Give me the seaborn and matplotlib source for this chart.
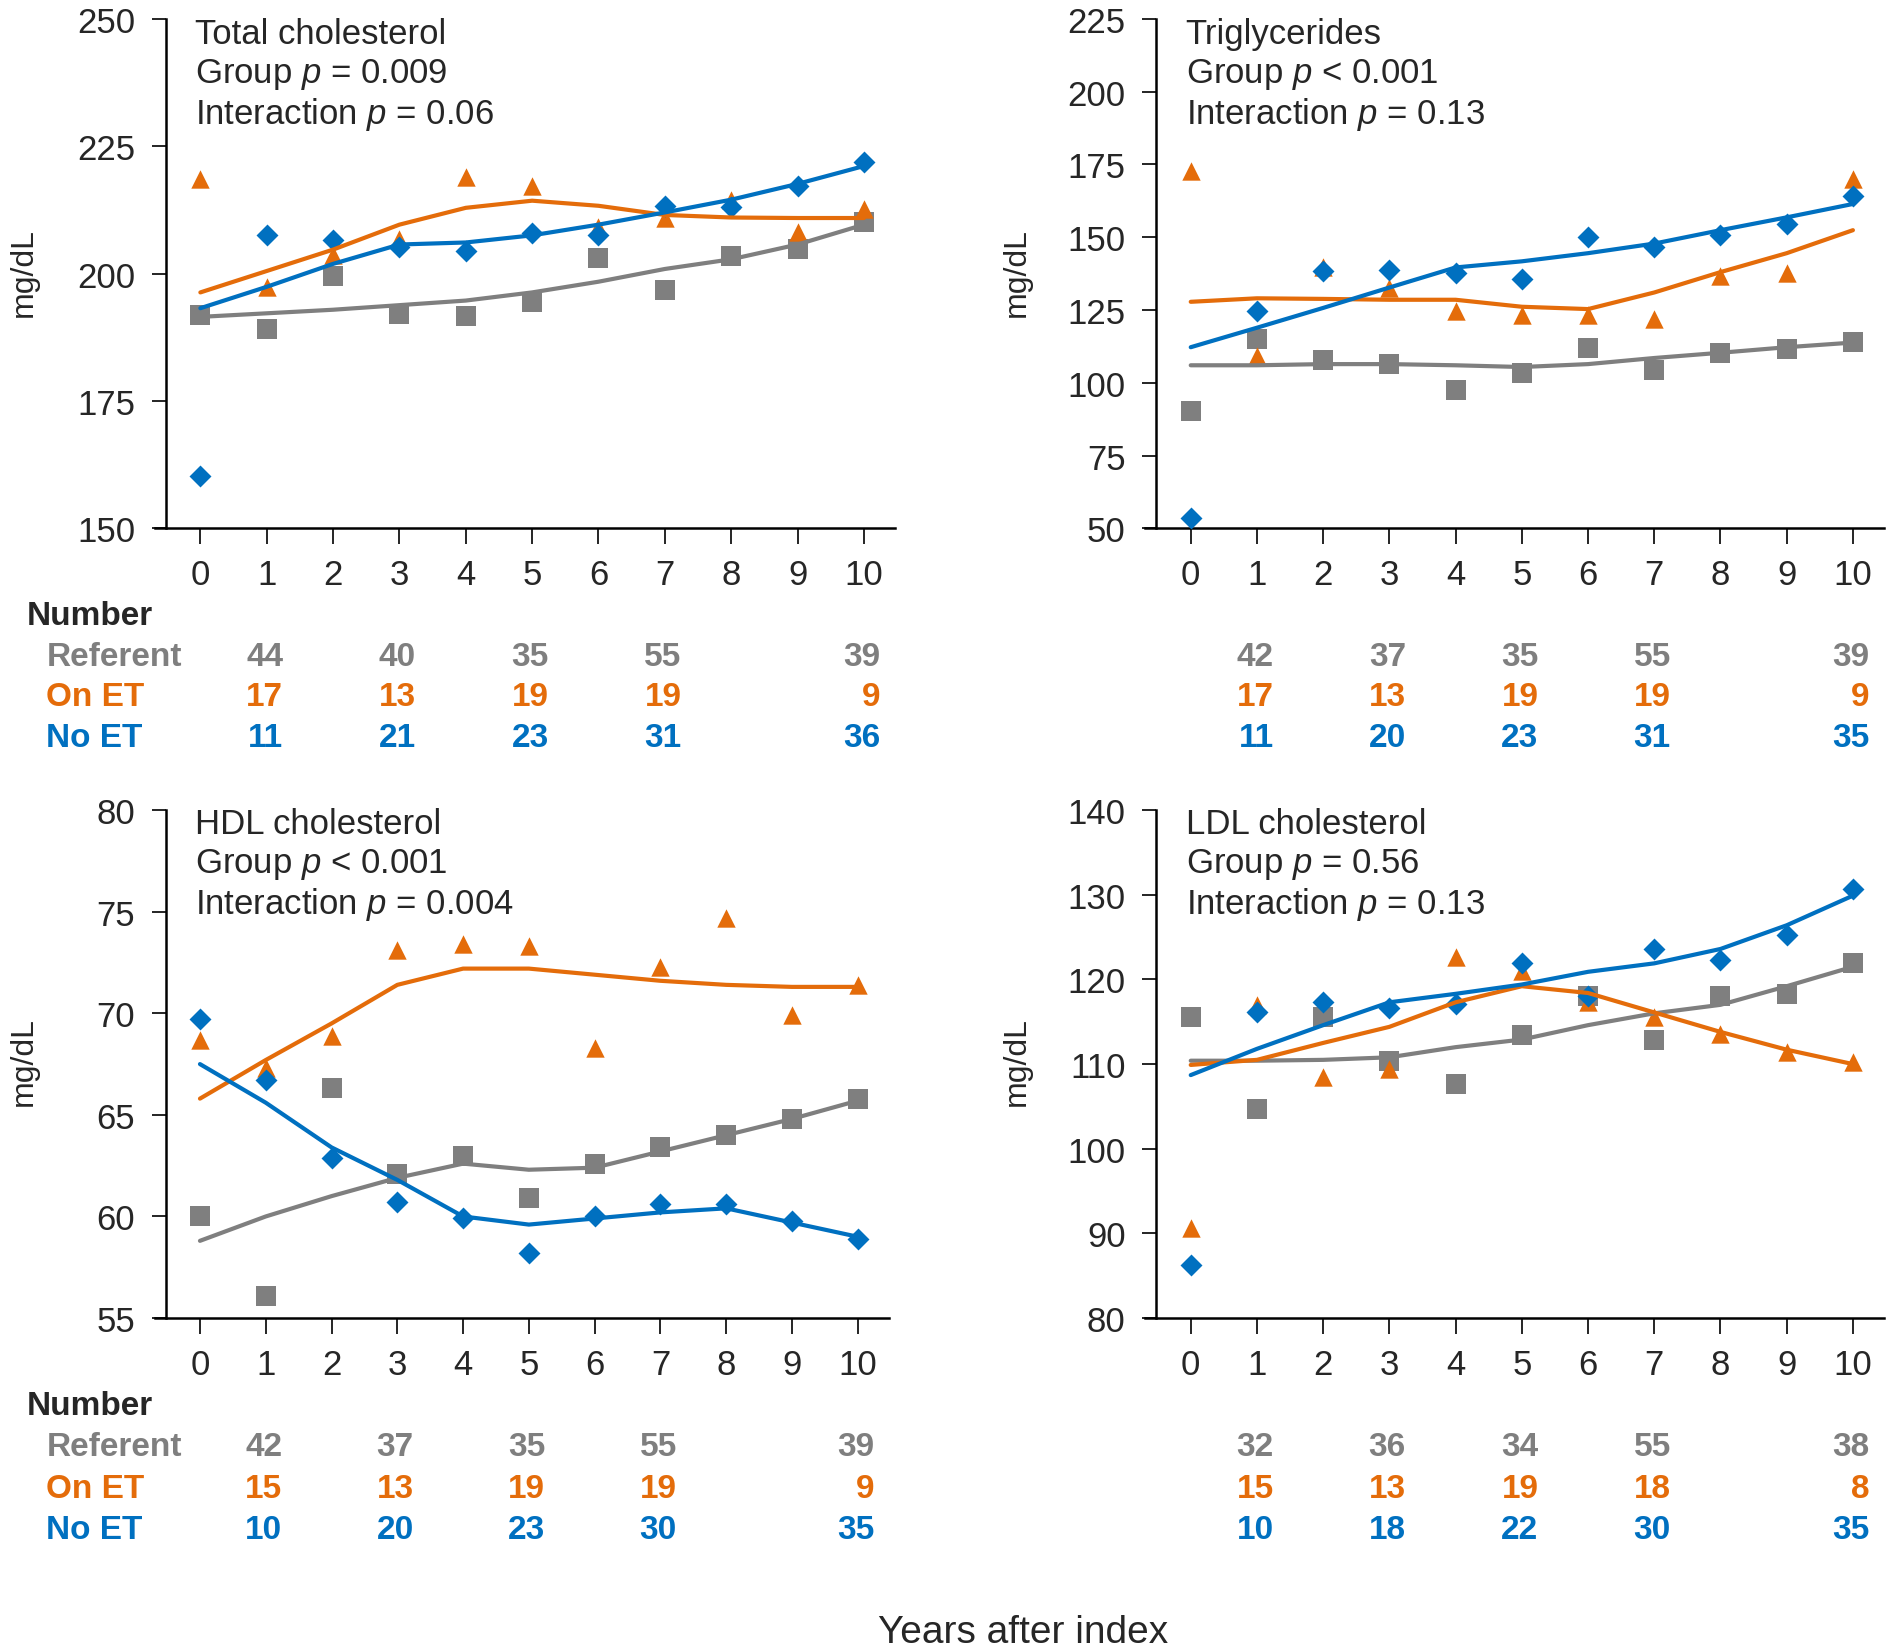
import pandas as pd
import matplotlib
matplotlib.use("Agg")
import matplotlib.pyplot as plt
import matplotlib.transforms as mtransforms
import seaborn as sns

years = list(range(11))
count_years = [1, 3, 5, 7, 10]
groups = ["Referent", "On ET", "No ET"]
colors = {"Referent": "#7F7F7F", "On ET": "#E46C0A", "No ET": "#0070C0"}
markers = {"Referent": "s", "On ET": "^", "No ET": "D"}
msizes = {"Referent": 205, "On ET": 175, "No ET": 125}

# Total cholesterol
tc_ref = [191.8, 189.2, 199.5, 192.0, 191.7, 194.5, 203.0, 196.8, 203.5, 204.9, 210.1]
tc_on = [218.6, 197.4, 203.7, 206.8, 218.9, 217.2, 209.2, 211.0, 214.5, 208.2, 212.7]
tc_no = [160.3, 207.5, 206.6, 205.2, 204.4, 208.0, 207.5, 213.3, 213.1, 217.1, 221.9]
tc_ref_fit = [191.5, 192.2, 192.9, 193.8, 194.7, 196.3, 198.4, 200.9, 202.8, 205.7, 209.6]
tc_on_fit = [196.3, 200.5, 204.7, 209.6, 212.9, 214.3, 213.3, 211.5, 211.0, 210.9, 210.9]
tc_no_fit = [193.2, 197.4, 201.9, 205.7, 206.1, 207.5, 209.6, 212.0, 214.5, 217.6, 221.1]
tc_n_ref = [44, 40, 35, 55, 39]
tc_n_on = [17, 13, 19, 19, 9]
tc_n_no = [11, 21, 23, 31, 36]

# Triglycerides
tg_ref = [90.4, 115.0, 107.8, 106.4, 97.6, 103.2, 111.9, 104.4, 110.3, 111.5, 114.0]
tg_on = [172.7, 109.1, 139.8, 132.5, 124.8, 123.2, 123.2, 122.0, 136.8, 137.6, 170.0]
tg_no = [53.5, 124.8, 138.4, 138.6, 137.6, 135.8, 149.9, 146.6, 150.7, 154.4, 164.1]
tg_ref_fit = [106.0, 106.0, 106.4, 106.4, 106.0, 105.4, 106.4, 108.5, 110.3, 112.2, 113.8]
tg_on_fit = [127.8, 129.0, 128.8, 128.5, 128.5, 126.1, 125.3, 131.0, 138.0, 144.5, 152.4]
tg_no_fit = [112.2, 118.9, 125.7, 132.7, 139.6, 141.7, 144.5, 147.8, 152.4, 156.8, 161.4]
tg_n_ref = [42, 37, 35, 55, 39]
tg_n_on = [17, 13, 19, 19, 9]
tg_n_no = [11, 20, 23, 31, 35]

# HDL cholesterol
hdl_ref = [60.0, 56.1, 66.3, 62.1, 63.0, 60.9, 62.6, 63.4, 64.0, 64.8, 65.8]
hdl_on = [68.7, 67.3, 68.9, 73.1, 73.4, 73.3, 68.3, 72.3, 74.7, 69.9, 71.4]
hdl_no = [69.7, 66.7, 62.9, 60.7, 59.9, 58.2, 60.0, 60.6, 60.6, 59.8, 58.9]
hdl_ref_fit = [58.8, 60.0, 61.0, 61.9, 62.6, 62.3, 62.4, 63.2, 64.0, 64.8, 65.7]
hdl_on_fit = [65.8, 67.7, 69.5, 71.4, 72.2, 72.2, 71.9, 71.6, 71.4, 71.3, 71.3]
hdl_no_fit = [67.5, 65.6, 63.4, 61.8, 60.0, 59.6, 59.9, 60.2, 60.4, 59.7, 59.0]
hdl_n_ref = [42, 37, 35, 55, 39]
hdl_n_on = [15, 13, 19, 19, 9]
hdl_n_no = [10, 20, 23, 30, 35]

# LDL cholesterol
ldl_ref = [115.6, 104.7, 115.6, 110.4, 107.6, 113.4, 118.0, 112.8, 118.0, 118.3, 122.0]
ldl_on = [90.6, 117.0, 108.5, 109.4, 122.7, 121.0, 117.3, 115.6, 113.6, 111.4, 110.3]
ldl_no = [86.3, 116.2, 117.3, 116.6, 117.1, 122.0, 118.1, 123.6, 122.3, 125.3, 130.7]
ldl_ref_fit = [110.4, 110.4, 110.5, 110.8, 112.0, 112.9, 114.6, 116.0, 117.0, 119.2, 121.5]
ldl_on_fit = [109.9, 110.5, 112.5, 114.4, 117.3, 119.2, 118.4, 116.1, 113.8, 111.7, 110.0]
ldl_no_fit = [108.7, 111.8, 114.6, 117.3, 118.3, 119.4, 120.9, 121.9, 123.6, 126.4, 129.9]
ldl_n_ref = [32, 36, 34, 55, 38]
ldl_n_on = [15, 13, 19, 18, 8]
ldl_n_no = [10, 18, 22, 30, 35]

panels = [
    dict(title="Total cholesterol", group_p="Group $p$ = 0.009", inter_p="Interaction $p$ = 0.06",
         pts=[tc_ref, tc_on, tc_no], fit=[tc_ref_fit, tc_on_fit, tc_no_fit],
         n=[tc_n_ref, tc_n_on, tc_n_no], ylim=(150, 250), yticks=[150, 175, 200, 225, 250],
         rect=[0.0817, 0.679, 0.3914, 0.309], left_col=True, top=True),
    dict(title="Triglycerides", group_p="Group $p$ < 0.001", inter_p="Interaction $p$ = 0.13",
         pts=[tg_ref, tg_on, tg_no], fit=[tg_ref_fit, tg_on_fit, tg_no_fit],
         n=[tg_n_ref, tg_n_on, tg_n_no], ylim=(50, 225), yticks=[50, 75, 100, 125, 150, 175, 200, 225],
         rect=[0.6052, 0.679, 0.3906, 0.309], left_col=False, top=True),
    dict(title="HDL cholesterol", group_p="Group $p$ < 0.001", inter_p="Interaction $p$ = 0.004",
         pts=[hdl_ref, hdl_on, hdl_no], fit=[hdl_ref_fit, hdl_on_fit, hdl_no_fit],
         n=[hdl_n_ref, hdl_n_on, hdl_n_no], ylim=(55, 80), yticks=[55, 60, 65, 70, 75, 80],
         rect=[0.0817, 0.2001, 0.388, 0.308], left_col=True, top=False),
    dict(title="LDL cholesterol", group_p="Group $p$ = 0.56", inter_p="Interaction $p$ = 0.13",
         pts=[ldl_ref, ldl_on, ldl_no], fit=[ldl_ref_fit, ldl_on_fit, ldl_no_fit],
         n=[ldl_n_ref, ldl_n_on, ldl_n_no], ylim=(80, 140), yticks=[80, 90, 100, 110, 120, 130, 140],
         rect=[0.6052, 0.2001, 0.3906, 0.308], left_col=False, top=False),
]

sns.set_style("white")
plt.rcParams["font.family"] = ["Liberation Sans", "DejaVu Sans"]
plt.rcParams["mathtext.fontset"] = "custom"
plt.rcParams["mathtext.rm"] = "Liberation Sans"
plt.rcParams["mathtext.it"] = "Liberation Sans:italic"

fig = plt.figure(figsize=(18.92, 16.49), dpi=100)

for p in panels:
    ax = fig.add_axes(p["rect"])
    for g, vals in zip(groups, p["pts"]):
        sns.scatterplot(x=years, y=vals, marker=markers[g], color=colors[g], s=msizes[g],
                        linewidth=0, ax=ax, zorder=3, clip_on=False)
    fit_df = pd.DataFrame({
        "year": years * 3,
        "value": p["fit"][0] + p["fit"][1] + p["fit"][2],
        "group": [g for g in groups for _ in years],
    })
    sns.lineplot(data=fit_df, x="year", y="value", hue="group", palette=colors,
                 linewidth=3.0, legend=False, ax=ax, zorder=4)

    ax.set_xlim(-0.69, 10.47)
    ax.set_ylim(*p["ylim"])
    ax.set_xticks(years)
    ax.set_yticks(p["yticks"])
    ax.set_xlabel("")
    ax.set_ylabel("")
    for side in ["top", "right"]:
        ax.spines[side].set_visible(False)
    for side in ["left", "bottom"]:
        ax.spines[side].set_color("black")
        ax.spines[side].set_linewidth(1.8)
    ax.spines["left"].set_position(("data", -0.52))
    ax.tick_params(axis="both", direction="out", width=1.2, labelsize=25,
                   color="black", left=True, bottom=True)
    ax.tick_params(axis="x", length=11.5, pad=10)
    ax.tick_params(axis="y", length=10, pad=12)

    # statistics text
    x0 = ax.get_position().x0 + 0.0215
    y_top = 0.979 if p["top"] else 0.5
    fig.text(x0, y_top, p["title"], fontsize=25, va="center", ha="left")
    fig.text(x0, y_top - 0.0243, p["group_p"], fontsize=25, va="center", ha="left")
    fig.text(x0, y_top - 0.0486, p["inter_p"], fontsize=25, va="center", ha="left")

    # y label
    lx = 0.0127 if p["left_col"] else 0.5377
    ly = 0.835 if p["top"] else 0.356
    fig.text(lx, ly, "mg/dL", rotation=90, fontsize=23, va="center", ha="center")

    # number-at-risk table
    rows_y = [0.601, 0.577, 0.5524] if p["top"] else [0.122, 0.097, 0.072]
    num_y = 0.626 if p["top"] else 0.1468
    if p["left_col"]:
        fig.text(0.014, num_y, "Number", fontsize=24, fontweight="bold", va="center", ha="left")
        for g, ry in zip(groups, rows_y):
            fig.text(0.0245, ry, g, fontsize=24, fontweight="bold", color=colors[g],
                     va="center", ha="left")
    trans = mtransforms.blended_transform_factory(ax.transData, fig.transFigure)
    for g, counts, ry in zip(groups, p["n"], rows_y):
        for yr, c in zip(count_years, counts):
            ax.text(yr + 0.25, ry, str(c), transform=trans, fontsize=24, fontweight="bold",
                    color=colors[g], va="center", ha="right", clip_on=False)

fig.text(0.541, 0.010, "Years after index", fontsize=28, va="center", ha="center")

fig.savefig("out.png", dpi=100)
